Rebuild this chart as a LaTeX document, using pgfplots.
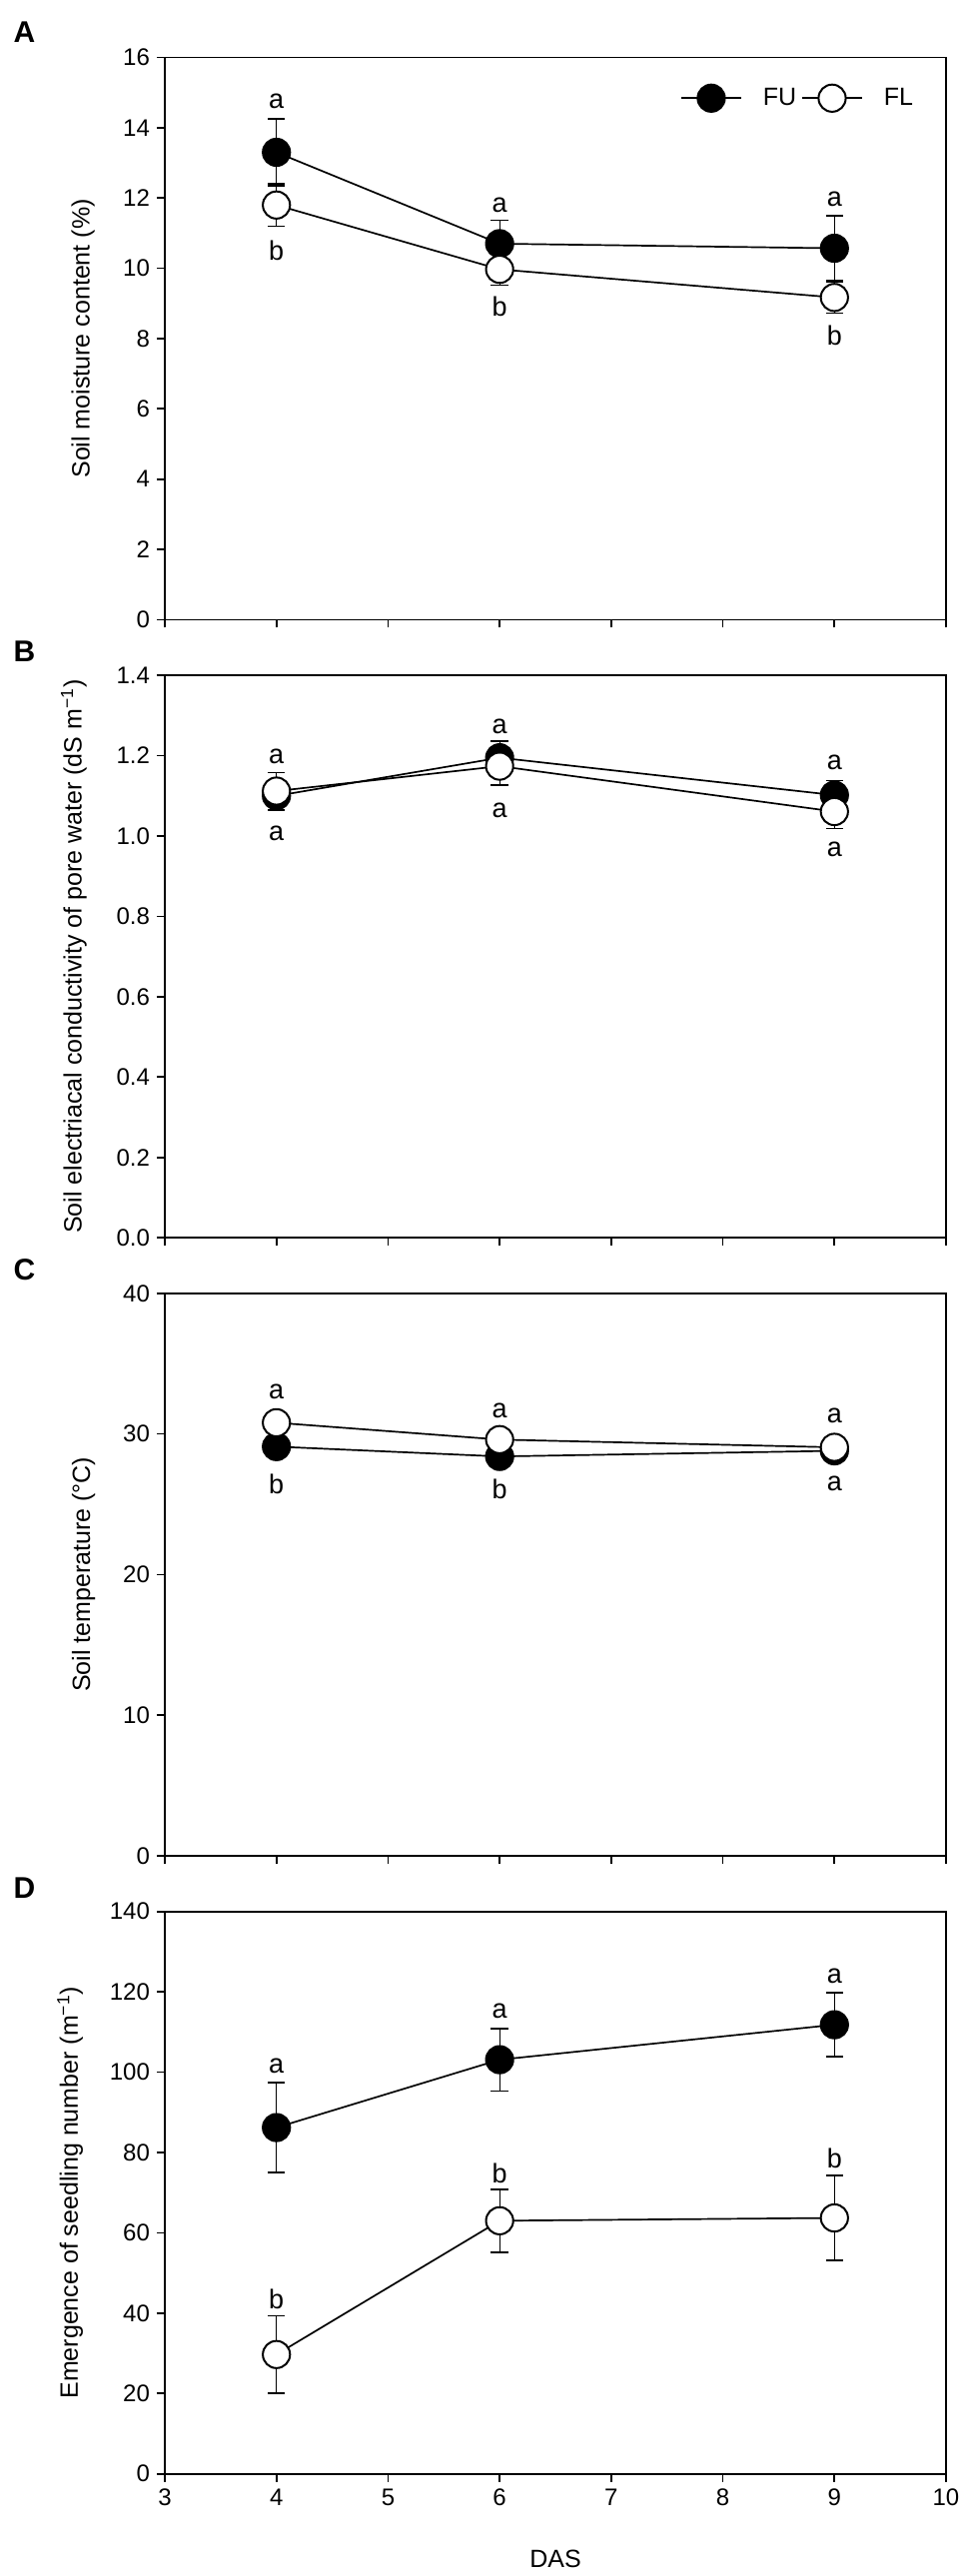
\documentclass[border=0pt]{standalone}
\usepackage{fontspec}
\setmainfont{Liberation Sans}
\usepackage{pgfplots}
\pgfplotsset{compat=1.18}
\usepackage{pgfplotstable}

\pgfplotstableread{
x y e
4 13.3 0.95
6 10.7 0.67
9 10.57 0.93
}\AFU
\pgfplotstableread{
x y e
4 11.8 0.6
6 9.97 0.45
9 9.17 0.45
}\AFL
\pgfplotstableread{
x y e
4 1.10 0.035
6 1.195 0.042
9 1.102 0.036
}\BFU
\pgfplotstableread{
x y e
4 1.112 0.046
6 1.174 0.047
9 1.061 0.042
}\BFL
\pgfplotstableread{
x y e
4 29.1 0.4
6 28.4 0.4
9 28.8 0.4
}\CFU
\pgfplotstableread{
x y e
4 30.8 0.4
6 29.6 0.4
9 29.05 0.4
}\CFL
\pgfplotstableread{
x y e
4 86.2 11.2
6 103.1 7.8
9 111.8 8.0
}\DFU
\pgfplotstableread{
x y e
4 29.7 9.6
6 63.0 7.8
9 63.7 10.6
}\DFL

\pgfplotsset{
  panel/.style={
    scale only axis, width=391pt, height=281.5pt,
    anchor=south west,
    xmin=3, xmax=10, xtick={3,4,...,10},
    tick pos=left, tick align=outside,
    major tick length=4pt,
    axis line style={line width=0.85pt},
    major tick style={line width=0.85pt, black},
    tick label style={font=\fontsize{12}{14}\selectfont},
    /pgf/number format/assume math mode=true,
    label style={font=\fontsize{12.5}{15}\selectfont},
    ylabel style={anchor=base},
    clip=false,
    error bars/error bar style={line width=0.6pt, solid},
    error bars/error mark options={rotate=90, mark size=4.35pt, line width=0.8pt, solid},
  },
  fu/.style={black, line width=0.85pt, mark=*, mark size=6.8pt, mark options={fill=black, line width=1pt, solid}},
  fl/.style={black, line width=0.85pt, mark=*, mark size=6.8pt, mark options={fill=white, line width=1pt, solid}},
}
\tikzset{
  lett/.style={font=\fontsize{13.5}{16}\selectfont},
  plab/.style={font=\bfseries\fontsize{15}{18}\selectfont},
}

\begin{document}
\begin{tikzpicture}
\useasboundingbox (0,0) rectangle (485.5pt,1289.5pt);

% Panel A
\begin{axis}[panel, at={(82.5pt,979.25pt)},
  ymin=0, ymax=16, ytick={0,2,...,16},
  xticklabels={},
  ylabel={Soil moisture content (\%)},
  ylabel style={at={(axis description cs:-0.0965,0.5)}},
  legend columns=2,
  legend image code/.code={\draw[mark repeat=2,mark phase=2,#1] plot coordinates {(0pt,0pt) (15pt,0pt) (30pt,0pt)};},
  legend style={draw=none, fill=none, at={(axis description cs:0.66,0.9275)}, anchor=west,
    inner sep=0pt, outer sep=0pt, column sep=0pt,
    nodes={inner sep=0pt, font=\fontsize{12.5}{15}\selectfont},
    /tikz/every odd column/.append style={column sep=10.5pt},
    /tikz/every even column/.append style={column sep=2.5pt}},
]
\addplot[fu, error bars/.cd, y dir=both, y explicit] table[x=x,y=y,y error=e]{\AFU};
\addlegendentry{FU}
\addplot[fl, error bars/.cd, y dir=both, y explicit] table[x=x,y=y,y error=e]{\AFL};
\addlegendentry{FL}
\node[lett] at (axis cs:4,14.75) {a};
\node[lett] at (axis cs:4,10.5) {b};
\node[lett] at (axis cs:6,11.8) {a};
\node[lett] at (axis cs:6,8.92) {b};
\node[lett] at (axis cs:9,11.96) {a};
\node[lett] at (axis cs:9,8.1) {b};
\end{axis}

% Panel B
\begin{axis}[panel, at={(82.5pt,669.9pt)},
  ymin=0, ymax=1.4, ytick={0,0.2,...,1.41},
  yticklabel style={/pgf/number format/.cd, fixed, fixed zerofill, precision=1},
  xticklabels={},
  ylabel={Soil electriacal conductivity of pore water (dS m\textsuperscript{−1})},
  ylabel style={at={(axis description cs:-0.1065,0.5)}},
]
\addplot[fu, error bars/.cd, y dir=both, y explicit] table[x=x,y=y,y error=e]{\BFU};
\addplot[fl, error bars/.cd, y dir=both, y explicit] table[x=x,y=y,y error=e]{\BFL};
\node[lett] at (axis cs:4,1.197) {a};
\node[lett] at (axis cs:4,1.006) {a};
\node[lett] at (axis cs:6,1.273) {a};
\node[lett] at (axis cs:6,1.065) {a};
\node[lett] at (axis cs:9,1.182) {a};
\node[lett] at (axis cs:9,0.968) {a};
\end{axis}

% Panel C
\begin{axis}[panel, at={(82.5pt,360.55pt)},
  ymin=0, ymax=40, ytick={0,10,...,40},
  xticklabels={},
  ylabel={Soil temperature (°C)},
  ylabel style={at={(axis description cs:-0.0959,0.5)}},
]
\addplot[fu, error bars/.cd, y dir=both, y explicit] table[x=x,y=y,y error=e]{\CFU};
\addplot[fl, error bars/.cd, y dir=both, y explicit] table[x=x,y=y,y error=e]{\CFL};
\node[lett] at (axis cs:4,33.0) {a};
\node[lett] at (axis cs:4,26.4) {b};
\node[lett] at (axis cs:6,31.65) {a};
\node[lett] at (axis cs:6,26.1) {b};
\node[lett] at (axis cs:9,31.3) {a};
\node[lett] at (axis cs:9,26.5) {a};
\end{axis}

% Panel D
\begin{axis}[panel, at={(82.5pt,51.15pt)},
  ymin=0, ymax=140, ytick={0,20,...,140},
  ylabel={Emergence of seedling number (m\textsuperscript{−1})},
  ylabel style={at={(axis description cs:-0.1113,0.5)}},
  xlabel={DAS},
  xlabel style={at={(axis description cs:0.5,0)}, anchor=center, yshift=-42.8pt},
]
\addplot[fu, error bars/.cd, y dir=both, y explicit] table[x=x,y=y,y error=e]{\DFU};
\addplot[fl, error bars/.cd, y dir=both, y explicit] table[x=x,y=y,y error=e]{\DFL};
\node[lett] at (axis cs:4,101.6) {a};
\node[lett] at (axis cs:4,43.4) {b};
\node[lett] at (axis cs:6,115.3) {a};
\node[lett] at (axis cs:6,74.9) {b};
\node[lett] at (axis cs:9,124.0) {a};
\node[lett] at (axis cs:9,78.5) {b};
\end{axis}

\node[plab] at (12.25pt,1273.25pt) {A};
\node[plab] at (12.25pt,963.4pt) {B};
\node[plab] at (12.25pt,654pt) {C};
\node[plab] at (12.25pt,344.65pt) {D};
\end{tikzpicture}
\end{document}
